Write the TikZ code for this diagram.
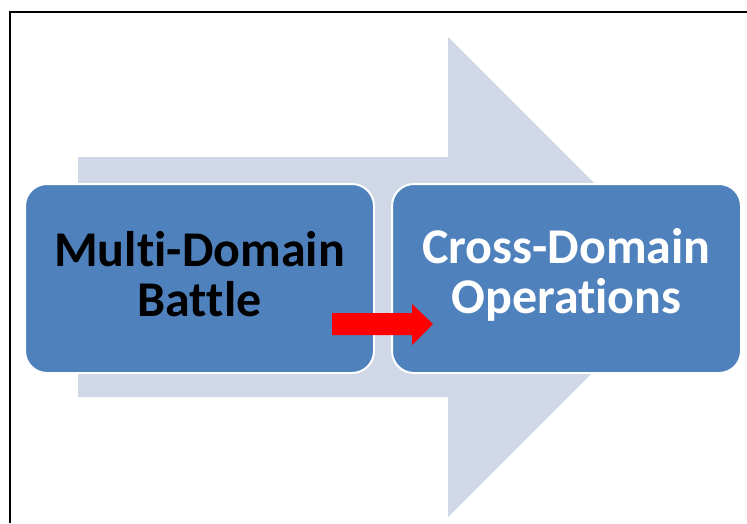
\documentclass[tikz,border=0pt]{standalone}
\usepackage{fontspec}
\setmainfont[Ligatures=NoCommon]{Carlito}
\definecolor{boxblue}{HTML}{4F81BD}
\definecolor{flowgrey}{HTML}{D0D8E8}
\definecolor{pointred}{HTML}{FF0000}
\begin{document}
\begin{tikzpicture}[x=1pt,y=-1pt,
  stage/.style={draw=white, line width=2pt, fill=boxblue,
    rounded corners=22pt, minimum width=349pt, minimum height=189pt,
    inner sep=0pt},
  stagetext/.style={inner sep=0pt, align=center,
    font=\fontsize{50}{50}\selectfont\bfseries},
  frameline/.style={draw=black, line width=2pt}]
  \useasboundingbox (0,0) rectangle (747,523);
  % slide frame, cut off at the right and bottom
  \draw[frameline] (10,523) -- (10,12) -- (747,12);
  % broad background arrow
  \fill[flowgrey] (78,157) -- (448,157) -- (448,37) -- (688,277)
    -- (448,517) -- (448,397) -- (78,397) -- cycle;
  % the two stages
  \node[stage] (mdb) at (199.5,278.5) {};
  \node[stage] (cdo) at (566.5,278.5) {};
  \node[stagetext, text=black] (mdbt) at ([yshift=4pt]mdb.center) {Multi-Domain\\Battle};
  \node[stagetext, text=white] (cdot) at ([yshift=4pt]cdo.center) {Cross-Domain\\Operations};
  % red transition arrow
  \fill[pointred] (332,313) -- (412,313) -- (412,304) -- (433,324)
    -- (412,345) -- (412,335) -- (332,335) -- cycle;
\end{tikzpicture}
\end{document}
